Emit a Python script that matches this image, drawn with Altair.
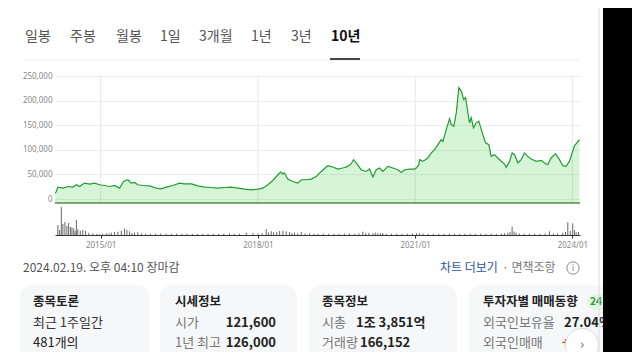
import altair as alt
import pandas as pd

KR = "Noto Sans CJK KR"
OX, OY = 55, 76  # page position of the plot origin

# ---- price series (decimal year, price in KRW) ----
price_t = [2014.132, 2014.155, 2014.186, 2014.281, 2014.376, 2014.472, 2014.537, 2014.599, 2014.695, 2014.790,
           2014.886, 2014.981, 2015.076, 2015.172, 2015.267, 2015.362, 2015.439, 2015.521, 2015.586, 2015.648,
           2015.711, 2015.807, 2015.935, 2016.062, 2016.158, 2016.253, 2016.379, 2016.507, 2016.602, 2016.730,
           2016.856, 2016.984, 2017.111, 2017.237, 2017.365, 2017.493, 2017.619, 2017.747, 2017.874, 2018.000,
           2018.096, 2018.191, 2018.286, 2018.382, 2018.433, 2018.477, 2018.509, 2018.572, 2018.668, 2018.763,
           2018.828, 2018.923, 2019.019, 2019.114, 2019.209, 2019.272, 2019.335, 2019.431, 2019.526, 2019.621,
           2019.717, 2019.782, 2019.825, 2019.877, 2019.972, 2020.068, 2020.131, 2020.194, 2020.258, 2020.321,
           2020.384, 2020.480, 2020.575, 2020.670, 2020.735, 2020.798, 2020.894, 2020.989, 2021.021, 2021.071,
           2021.084, 2021.147, 2021.243, 2021.307, 2021.370, 2021.433, 2021.498, 2021.529, 2021.594, 2021.657,
           2021.689, 2021.739, 2021.784, 2021.834, 2021.880, 2021.924, 2021.962, 2022.006, 2022.038, 2022.070,
           2022.114, 2022.166, 2022.215, 2022.280, 2022.343, 2022.406, 2022.452, 2022.515, 2022.597, 2022.705,
           2022.738, 2022.801, 2022.852, 2022.896, 2022.959, 2023.024, 2023.087, 2023.150, 2023.215, 2023.310,
           2023.406, 2023.469, 2023.531, 2023.596, 2023.678, 2023.754, 2023.818, 2023.882, 2023.945, 2023.997,
           2024.041, 2024.085, 2024.134]
price_v = [12000, 15300, 24300, 22200, 25500, 24300, 29000, 25500, 32400, 30400,
           32400, 29000, 27600, 25500, 27600, 22200, 35700, 39200, 32400, 33700,
           29000, 27600, 26900, 22200, 20800, 24300, 27600, 32400, 31000, 31000,
           26900, 24300, 23500, 22200, 23500, 24300, 22200, 20200, 18800, 20200,
           22200, 29000, 37800, 49400, 54900, 50800, 52900, 40600, 35700, 32400,
           39200, 39200, 40600, 45900, 56100, 62000, 67800, 65100, 61000, 63100,
           66300, 71800, 80000, 73300, 59600, 56100, 61000, 44700, 59600, 63100,
           56100, 66300, 63100, 59600, 54100, 59600, 61000, 61000, 63100, 69800,
           80000, 76500, 83500, 93700, 100400, 110600, 120800, 117300, 141200, 163100,
           151400, 148000, 175300, 226300, 219400, 202400, 205900, 175300, 154900, 165100,
           144700, 154900, 158200, 134500, 114100, 110600, 86700, 90200, 81400, 71200,
           64300, 76500, 93700, 90200, 73300, 80000, 93700, 86700, 81400, 76500,
           78600, 73300, 69800, 83500, 92200, 80000, 67800, 66300, 76500, 93700,
           108600, 114100, 120500]

# ---- volume (decimal year, thousand shares) ----
vol_t = [2014.186, 2014.218, 2014.250, 2014.281, 2014.319, 2014.357, 2014.390, 2014.422, 2014.453, 2014.485,
         2014.514, 2014.537, 2014.567, 2014.613, 2014.662, 2014.714, 2014.777, 2014.853, 2014.924, 2014.981,
         2015.040, 2015.109, 2015.160, 2015.204, 2015.267, 2015.330, 2015.395, 2015.458, 2015.502, 2015.553,
         2015.600, 2015.648, 2015.711, 2015.780, 2015.860, 2015.950, 2016.050, 2016.150, 2016.250, 2016.350,
         2016.450, 2016.550, 2016.650, 2016.750, 2016.850, 2016.950, 2017.050, 2017.150, 2017.250, 2017.350,
         2017.460, 2017.550, 2017.650, 2017.779, 2017.905, 2018.000, 2018.080, 2018.160, 2018.200, 2018.256,
         2018.300, 2018.360, 2018.414, 2018.477, 2018.542, 2018.605, 2018.650, 2018.700, 2018.760, 2018.828,
         2018.900, 2018.986, 2019.070, 2019.150, 2019.250, 2019.350, 2019.450, 2019.550, 2019.650, 2019.750,
         2019.850, 2019.930, 2020.003, 2020.060, 2020.120, 2020.194, 2020.240, 2020.289, 2020.340, 2020.384,
         2020.450, 2020.550, 2020.650, 2020.750, 2020.850, 2020.950, 2021.030, 2021.084, 2021.150, 2021.250,
         2021.350, 2021.450, 2021.550, 2021.650, 2021.750, 2021.847, 2021.950, 2022.050, 2022.150, 2022.250,
         2022.350, 2022.450, 2022.550, 2022.650, 2022.705, 2022.768, 2022.810, 2022.852, 2022.890, 2022.928,
         2022.990, 2023.080, 2023.180, 2023.280, 2023.380, 2023.480, 2023.564, 2023.640, 2023.720, 2023.818,
         2023.870, 2023.913, 2023.960, 2024.008, 2024.040, 2024.073, 2024.117]
vol_k = [1000, 500, 2800, 1100, 1300, 900, 1200, 800, 770, 670,
         400, 1500, 570, 430, 500, 430, 230, 170, 100, 70,
         120, 170, 150, 230, 300, 330, 430, 630, 500, 370,
         200, 230, 270, 150, 120, 130, 120, 150, 130, 120,
         140, 120, 130, 120, 120, 110, 120, 120, 110, 130,
         170, 120, 130, 230, 170, 150, 180, 570, 250, 370,
         280, 320, 400, 430, 370, 300, 200, 230, 180, 300,
         150, 170, 130, 120, 140, 120, 130, 120, 140, 150,
         130, 180, 330, 200, 220, 170, 250, 200, 160, 200,
         130, 120, 130, 120, 130, 150, 180, 170, 140, 130,
         120, 130, 120, 140, 130, 100, 120, 130, 120, 130,
         120, 130, 120, 140, 170, 230, 300, 830, 350, 230,
         150, 130, 120, 130, 120, 150, 370, 140, 150, 230,
         300, 1270, 400, 1170, 500, 270, 300]

grid_years = [2015, 2018, 2021, 2024]
y_ticks = [0, 50000, 100000, 150000, 200000, 250000]
Y_MIN, Y_MAX = -8000, 250000

tabs = ["일봉", "주봉", "월봉", "1일", "3개월", "1년", "3년", "10년"]
tab_x = [25, 70, 116, 160, 199, 251, 291, 331]


def dec_year(t):
    y = int(t)
    a = pd.Timestamp(year=y, month=1, day=1)
    b = pd.Timestamp(year=y + 1, month=1, day=1)
    return (a + (b - a) * (t - y)).strftime("%Y-%m-%d")


price_df = pd.DataFrame({"date": [dec_year(t) for t in price_t], "price": price_v})
vol_df = pd.DataFrame({"date": [dec_year(t) for t in vol_t], "vol": vol_k})
grid_df = pd.DataFrame({"date": [f"{y}-01-01" for y in grid_years]})
dummy = pd.DataFrame({"k": [0]})

xscale = alt.Scale(domain=[alt.DateTime(year=2014, month=2, date=17),
                           alt.DateTime(year=2024, month=2, date=23)])
xaxis = alt.Axis(values=[alt.DateTime(year=y, month=1, date=1) for y in grid_years],
                 format="%Y/%m", offset=32, grid=False, domainColor="#333", tickColor="#333",
                 tickSize=3, labelFontSize=8, labelColor="#888", labelFont="Noto Sans",
                 labelPadding=3, title=None)
yscale = alt.Scale(domain=[Y_MIN, Y_MAX])
yaxis = alt.Axis(values=y_ticks, format=",d", grid=True, gridColor="#ececec", ticks=False,
                 domain=False, labelFontSize=8, labelColor="#888", labelFont="Noto Sans",
                 labelPadding=3, title=None)

X = alt.X("date:T", scale=xscale, axis=xaxis)

vgrid = alt.Chart(grid_df).mark_rule(color="#e6e6e6", strokeWidth=1).encode(x=X)

area = alt.Chart(price_df).mark_area(color="#33cc33", opacity=0.2).encode(
    x=X, y=alt.Y("price:Q", scale=yscale, axis=yaxis), y2=alt.datum(Y_MIN))
line = alt.Chart(price_df).mark_line(color="#1f9d32", strokeWidth=1.2).encode(
    x=X, y=alt.Y("price:Q", scale=yscale, axis=yaxis))
base = alt.Chart(dummy).mark_rule(color="#4f8a4f", strokeWidth=1.5).encode(
    y=alt.YDatum(Y_MIN, scale=yscale, axis=yaxis))
price_layer = alt.layer(area, line, base)

volume = alt.Chart(vol_df).mark_rule(color="#666", strokeWidth=1).encode(
    x=X,
    y=alt.Y("vol:Q", scale=alt.Scale(domain=[0, 2800], range=[159, 131]), axis=None),
    y2=alt.datum(0))


def txt(s, px, py, size=14, color="#333", weight="normal", align="left", font=KR):
    return alt.Chart(dummy).mark_text(text=s, align=align, baseline="middle", fontSize=size,
                                      font=font, fontWeight=weight, color=color).encode(
        x=alt.value(px - OX), y=alt.value(py - OY))


def box(x1, y1, x2, y2, fill, radius=0):
    return alt.Chart(dummy).mark_rect(color=fill, cornerRadius=radius).encode(
        x=alt.value(x1 - OX), x2=alt.value(x2 - OX), y=alt.value(y1 - OY), y2=alt.value(y2 - OY))


def hline(x1, x2, y, color, w=1):
    return alt.Chart(dummy).mark_rule(color=color, strokeWidth=w).encode(
        x=alt.value(x1 - OX), x2=alt.value(x2 - OX), y=alt.value(y - OY))


def vline(x, y1, y2, color, w=1):
    return alt.Chart(dummy).mark_rule(color=color, strokeWidth=w).encode(
        x=alt.value(x - OX), y=alt.value(y1 - OY), y2=alt.value(y2 - OY))


def dot(px, py, size, fill, stroke, filled=True, sw=1):
    return alt.Chart(dummy).mark_point(shape="circle", size=size, filled=filled, fill=fill,
                                       stroke=stroke, strokeWidth=sw, opacity=1).encode(
        x=alt.value(px - OX), y=alt.value(py - OY))


ui = []
# tabs
for s, tx in zip(tabs, tab_x):
    active = s == "10년"
    ui.append(txt(s, tx, 37, size=14, color="#111" if active else "#555",
                  weight="bold" if active else "normal"))
ui.append(hline(23, 580, 60, "#eeeeee"))
ui.append(hline(330, 360, 59, "#444", 2))

# footer line under chart
ui.append(txt("2024.02.19. 오후 04:10 장마감", 23, 268, size=12, color="#555"))
ui.append(txt("차트 더보기", 440, 268, size=12, color="#2a56a8"))
ui.append(txt("· 면책조항", 502, 268, size=12, color="#777"))
ui.append(dot(573, 268, 150, "white", "#888", filled=False))
ui.append(txt("i", 573, 268, size=9, color="#888", align="center"))

# cards
for x1, x2 in [(20, 149), (160, 297), (309, 457), (469, 620)]:
    ui.append(box(x1, 285, x2, 380, "#f6f7f8", 12))

ROW1, ROW2, ROW3, FS = 302, 323, 343, 13
ui += [
    txt("종목토론", 33, ROW1, 12.5, "#222", "bold"),
    txt("최근 1주일간", 33, ROW2, FS, "#333"),
    txt("481개의", 33, ROW3, FS, "#222"),
    txt("시세정보", 175, ROW1, 12.5, "#222", "bold"),
    txt("시가", 175, ROW2, FS, "#777"),
    txt("121,600", 276, ROW2, FS, "#222", "bold", "right"),
    txt("1년 최고", 175, ROW3, FS, "#777"),
    txt("126,000", 276, ROW3, FS, "#222", "bold", "right"),
    txt("종목정보", 322, ROW1, 12.5, "#222", "bold"),
    txt("시총", 322, ROW2, FS, "#777"),
    txt("1조 3,851억", 356, ROW2, FS, "#222", "bold"),
    txt("거래량", 322, ROW3, FS, "#777"),
    txt("166,152", 360, ROW3, FS, "#222", "bold"),
    txt("투자자별 매매동향", 483, ROW1, 12.5, "#222", "bold"),
    box(587, ROW1 - 8, 610, ROW1 + 8, "#e3f5e3", 8),
    txt("24", 590, ROW1, 10, "#2a9d3a", "bold"),
    txt("외국인보유율", 483, ROW2, FS, "#777"),
    txt("27.04%", 564, ROW2, FS, "#222", "bold"),
    txt("외국인매매", 483, ROW3, FS, "#777"),
    txt("+", 562, ROW3, FS, "#e0302a", "bold"),
    dot(582, 345, 1100, "white", "#dddddd"),
    txt("›", 582, 345, 14, "#666", align="center"),
    # right edge of the panel and dark page background
    vline(599, -10, 370, "#dddddd"),
    box(603, -10, 645, 370, "#000000"),
]

chart = alt.layer(vgrid, price_layer, volume, *ui).resolve_scale(y="independent").properties(
    width=525, height=127,
    padding={"left": 47, "top": 68, "right": 52, "bottom": 149},
    autosize=alt.AutoSizeParams(type="none"),
    background="white",
).configure_view(stroke=None)

chart.save("out.html", embed_options={"renderer": "svg", "actions": False})
